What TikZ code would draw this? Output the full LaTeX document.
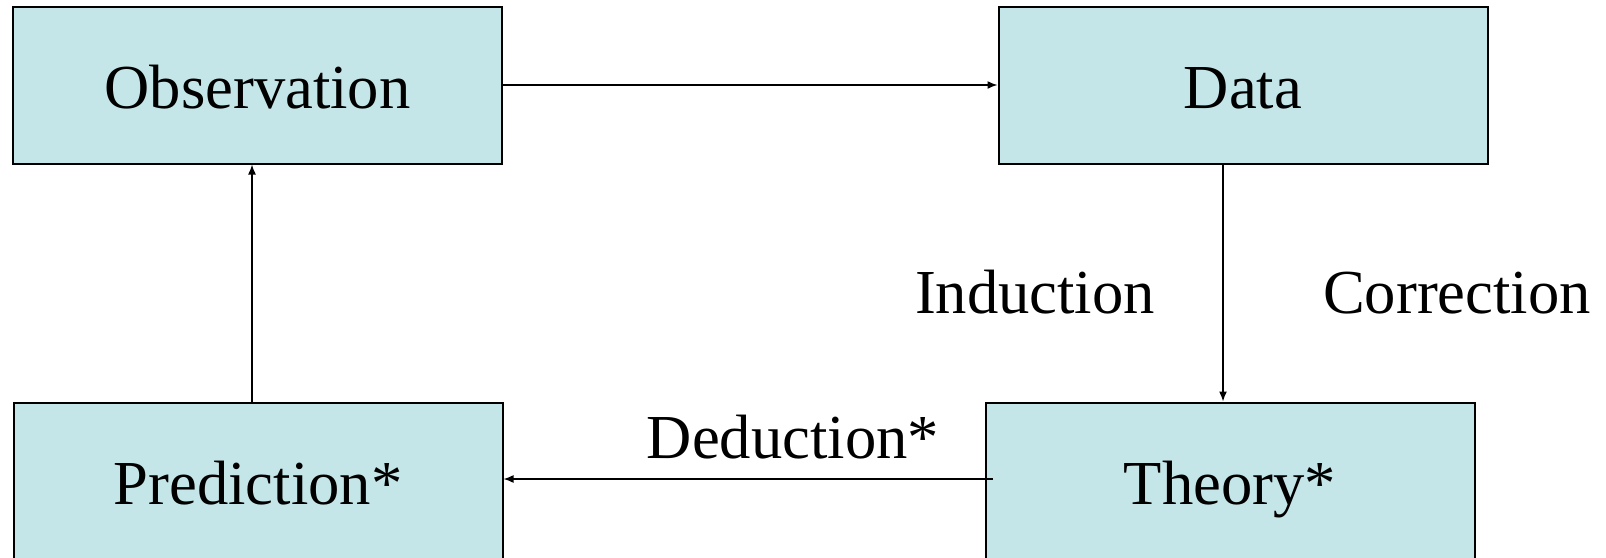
\documentclass[tikz,border=0pt]{standalone}
\usepackage{fontspec}
\setmainfont{Liberation Serif}
\usepackage{tikz}
\usetikzlibrary{arrows.meta, positioning}
\definecolor{boxfill}{RGB}{196,230,232}
\tikzset{/Cycle/box/.style={
	shape=rectangle, draw=black, line width=1pt, fill=boxfill,
	minimum width=489pt*0.5, minimum height=157pt*0.5, inner sep=0,
	text height=0.76em, text depth=0pt
}}
\tikzset{/Cycle/label/.style={anchor=base, inner sep=0}}

\begin{document}
\begin{tikzpicture}[x=0.5pt, y=-0.5pt]
\useasboundingbox (0,0) rectangle (1606,557);
\clip (0,0) rectangle (1606,557);
{\fontsize{31.3}{37}\selectfont
\node[/Cycle/box] (observation) at (257.5,85) {Observation};
\node[/Cycle/box] (data) at (1243,85) {Data};
\node[/Cycle/box] (prediction) at (258,481) {Prediction*};
\node[/Cycle/box] (theory) at (1230,481) {Theory*};

\node[/Cycle/label] (induction) at (1035,313) {Induction};
\node[/Cycle/label] (correction) at (1457,313) {Correction};
\node[/Cycle/label] (deduction) at (793,458) {Deduction*};
}
{\footnotesize
\path[-{Latex[length=5pt,width=4pt]},draw,line width=0.75pt] (observation) -- (data);
\path[-{Latex[length=5pt,width=4pt]},draw,line width=0.75pt] ([xshift=-10pt]data.south) -- ([xshift=-10pt]data.south |- theory.north);
\path[-{Latex[length=5pt,width=4pt]},draw,line width=0.75pt] ([xshift=4pt,yshift=1pt]theory.west) -- ([yshift=1pt]prediction.east);
\path[-{Latex[length=5pt,width=4pt]},draw,line width=0.75pt] ([xshift=-3pt]prediction.north) -- ([xshift=-3pt]prediction.north |- observation.south);
}
\end{tikzpicture}
\end{document}
